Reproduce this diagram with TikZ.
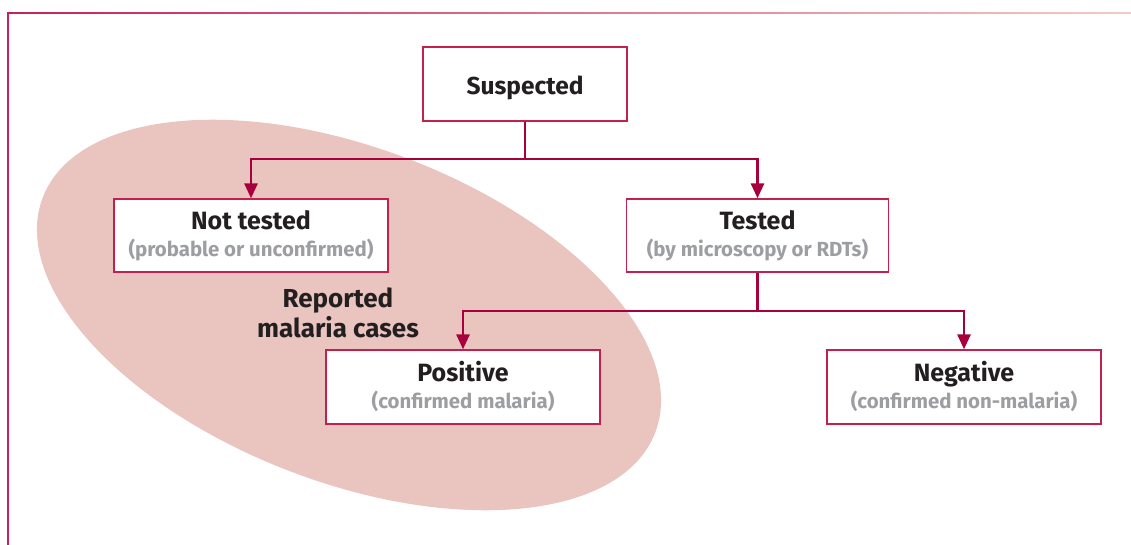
\documentclass[tikz,border=0pt]{standalone}
\usepackage{fontspec}
\setmainfont{Fira Sans}
\usetikzlibrary{arrows.meta}
\definecolor{crim}{HTML}{A8003C}
\definecolor{boxline}{HTML}{C4204E}
\definecolor{ellfill}{HTML}{EAC4BF}
\definecolor{titlec}{HTML}{231F20}
\definecolor{subc}{HTML}{9C9EA1}
\definecolor{frameA}{HTML}{C8205A}
\definecolor{frameB}{HTML}{F2CCC4}
\newcommand{\boxtext}[2]{{\fontsize{25}{28}\selectfont\bfseries\color{titlec}\vphantom{Ng}#1}\\[3pt]{\fontsize{20.4}{24}\selectfont\bfseries\color{subc}\vphantom{(y)}#2}}
\tikzset{
  flowbox/.style={draw=boxline, line width=1.3pt, fill=white, inner sep=0pt, align=center, minimum height=74pt},
  conn/.style={draw=crim, line width=2.8pt, -{Triangle[width=13pt,length=15pt]}},
  connplain/.style={draw=crim, line width=2.8pt}
}
\begin{document}
\begin{tikzpicture}[x=1pt,y=-1pt]
\useasboundingbox (0,0) rectangle (1131,545);
\fill[white] (0,0) rectangle (1131,545);
% frame
\shade[left color=frameA, right color=frameB] (8,12.2) rectangle (1131,13.9);
\coordinate (fl1) at (8,12.2);
\coordinate (fl2) at (8,545);
\draw[frameA, line width=1.7pt] (fl1) -- (fl2);
% ellipse
\fill[ellfill, rotate around={-21:(349,315)}] (349,315) ellipse [x radius=328, y radius=167];
% boxes
\node[flowbox, minimum width=204pt] (sus) at (525,84) {\raisebox{-11pt}[0pt][0pt]{\fontsize{24.5}{28}\selectfont\bfseries\color{titlec}Suspected}};
\node[flowbox, minimum width=274pt, minimum height=73pt] (nt) at (251,235.5) {\boxtext{Not tested}{(probable or unconfirmed)}};
\node[flowbox, minimum width=262pt, minimum height=73pt] (te) at (757.5,235.5) {\boxtext{Tested}{(by microscopy or RDTs)}};
\node[flowbox, minimum width=274pt] (pos) at (463,387) {\boxtext{Positive}{(confirmed malaria)}};
\node[flowbox, minimum width=274pt] (neg) at (964,387) {\boxtext{Negative}{(confirmed non-malaria)}};
\node[align=center, font=\fontsize{26}{30}\selectfont\bfseries, text=titlec] (rep) at (338,313) {Reported\\malaria cases};
% connectors
\coordinate (j1) at (525,159);
\coordinate (j2) at (te.south |- 0,311);
\draw[connplain] (sus.south) -- (j1);
\draw[conn] (j1) -| (nt.north);
\draw[conn] (j1) -| (te.north);
\draw[connplain] (te.south) -- (j2);
\draw[conn] (j2) -| (pos.north);
\draw[conn] (j2) -| (neg.north);
\end{tikzpicture}
\end{document}
